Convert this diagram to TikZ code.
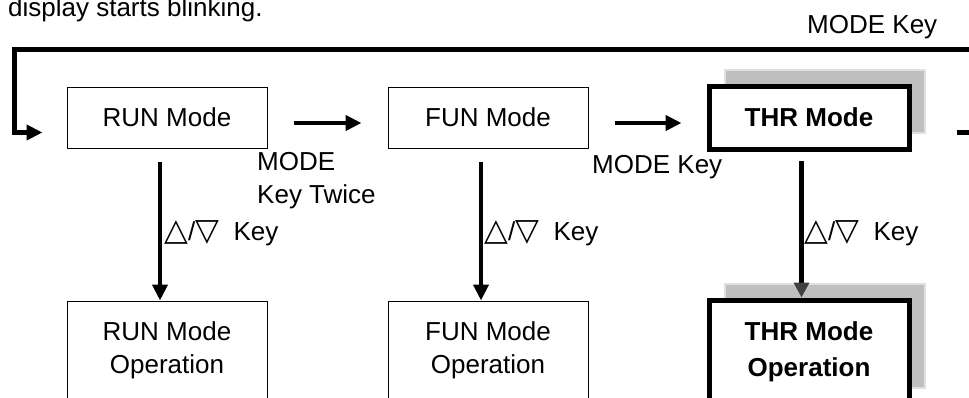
\documentclass[tikz,border=0pt]{standalone}
\usepackage{fontspec}
\setmainfont{Liberation Sans}
\newfontfamily\symfont{DejaVu Sans}
\usetikzlibrary{positioning,arrows.meta,shadows}
\newcommand{\updown}{{\symfont\fontsize{31}{33}\selectfont △}/{\symfont\fontsize{31}{33}\selectfont ▽}}

\begin{document}
\begin{tikzpicture}[
  x=1pt,y=1pt,
  node distance=152pt and 120pt,
  txt/.style={font=\fontsize{26}{33}\selectfont},
  box/.style={draw,line width=1pt,minimum width=200pt,minimum height=61pt,inner sep=0pt,align=center,txt},
  opbox/.style={box,minimum height=98pt},
  thrbox/.style={box,line width=5pt,fill=white,font=\fontsize{26}{36}\selectfont\bfseries,
    general shadow={shadow xshift=16pt,shadow yshift=16pt,fill=black!25,draw=black!12,line width=1.5pt}},
  lbl/.style={txt,inner sep=0pt},
  arr/.style={-{Triangle[length=16pt,width=15pt]},line width=4.5pt}]
\useasboundingbox (0,0) rectangle (969,-397);
\clip (0,0) rectangle (969,-397);
% mode boxes
\node[box] (run) at (167,-117.5) {RUN Mode};
\node[box,right=of run] (fun) {FUN Mode};
\node[thrbox,right=118pt of fun,minimum height=63pt] (thr) {THR Mode};
\node[opbox,below=of run] (runop) {RUN Mode\\Operation};
\node[opbox,below=of fun] (funop) {FUN Mode\\Operation};
\node[thrbox,below=146pt of thr,minimum height=104pt] (throp) {THR Mode\\Operation};
% texts
\node[lbl,anchor=base west] (title) at (8,-16) {display starts blinking.};
\node[lbl,anchor=base west] (loopkey) at (807,-33) {MODE Key};
\node[lbl,anchor=north west,align=left] (twice) at (257,-152) {MODE\\Key Twice};
\node[lbl,anchor=base west] (modekey) at (592,-173) {MODE Key};
\node[lbl,anchor=base west] (k1) at (164,-240) {\updown\ \ Key};
\node[lbl,anchor=base west] (k2) at (484,-240) {\updown\ \ Key};
\node[lbl,anchor=base west] (k3) at (804,-240) {\updown\ \ Key};
% arrows
\draw[arr,shorten <=26pt,shorten >=26pt] ([yshift=-5.5pt]run.east) -- ([yshift=-5.5pt]fun.west);
\draw[arr,shorten <=26pt,shorten >=25pt] ([yshift=-5.5pt]fun.east) -- ([yshift=-5.5pt]thr.west);
\draw[arr,shorten <=13.5pt] ([xshift=-7pt]run.south) -- ([xshift=-7pt]runop.north);
\draw[arr,shorten <=13.5pt] ([xshift=-7pt]fun.south) -- ([xshift=-7pt]funop.north);
\draw[arr,-{Triangle[length=15pt,width=15pt,color=black!75]},shorten <=9pt] ([xshift=-7.5pt]thr.south) -- ([xshift=-7.5pt]throp.north);
% loop back
\coordinate (topr) at (990,-49);
\coordinate (topl) at (14,-49);
\draw[arr,line width=5pt,shorten <=45pt,shorten >=24pt] ([yshift=-15pt]thr.east) -| (topr) -- (topl) |- ([yshift=-15pt]run.west);
\end{tikzpicture}
\end{document}
